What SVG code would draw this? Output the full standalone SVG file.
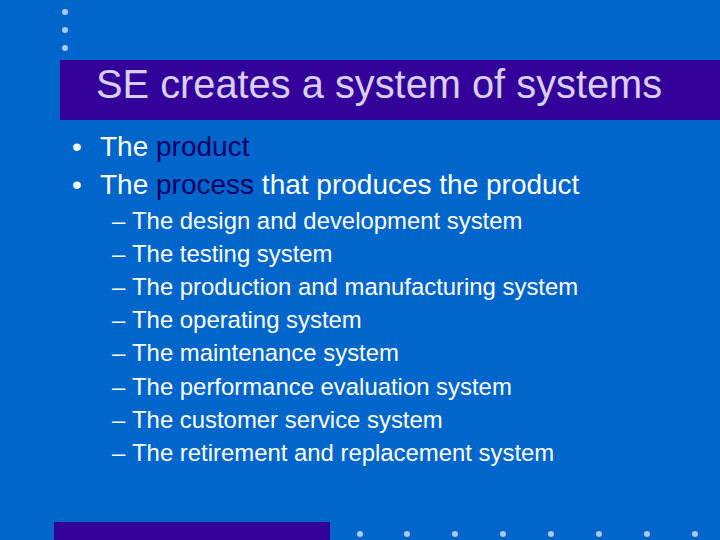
<svg xmlns="http://www.w3.org/2000/svg" width="720" height="540" viewBox="0 0 720 540">
<style>
text{font-family:"Liberation Sans",Arial,sans-serif}
.b{font-size:28px;fill:#ffffff}
.s{font-size:23.9px;fill:#ffffff}
.d{fill:#000066}
.dot{fill:#b0c8f0}
</style>
<rect width="720" height="540" fill="#0066cc"/>
<g id="dots-top"><circle class="dot" cx="65" cy="12" r="3"/><circle class="dot" cx="65" cy="30" r="3"/><circle class="dot" cx="65" cy="48" r="3"/></g>
<rect id="titlebar" x="60" y="60" width="660" height="60" fill="#330099"/>
<text x="96" y="98" font-size="39.8" fill="#d8d0f4">SE creates a system of systems</text>
<g id="bullets">
<text class="b" x="72" y="156">•</text><text class="b" x="100" y="156">The <tspan class="d">product</tspan></text>
<text class="b" x="72" y="194">•</text><text class="b" x="100" y="194">The <tspan class="d">process</tspan> that produces the product</text>
</g>
<g id="sub">
<text class="s" x="112" y="229">–</text><text class="s" x="132" y="229">The design and development system</text>
<text class="s" x="112" y="262">–</text><text class="s" x="132" y="262">The testing system</text>
<text class="s" x="112" y="295">–</text><text class="s" x="132" y="295">The production and manufacturing system</text>
<text class="s" x="112" y="328">–</text><text class="s" x="132" y="328">The operating system</text>
<text class="s" x="112" y="361">–</text><text class="s" x="132" y="361">The maintenance system</text>
<text class="s" x="112" y="395">–</text><text class="s" x="132" y="395">The performance evaluation system</text>
<text class="s" x="112" y="428">–</text><text class="s" x="132" y="428">The customer service system</text>
<text class="s" x="112" y="461">–</text><text class="s" x="132" y="461">The retirement and replacement system</text>
</g>
<rect id="bottombar" x="54" y="522" width="276" height="18" fill="#330099"/>
<g id="dots-bottom"><circle class="dot" cx="360" cy="534" r="3"/><circle class="dot" cx="407" cy="534" r="3"/><circle class="dot" cx="455" cy="534" r="3"/><circle class="dot" cx="503" cy="534" r="3"/><circle class="dot" cx="551" cy="534" r="3"/><circle class="dot" cx="599" cy="534" r="3"/><circle class="dot" cx="647" cy="534" r="3"/><circle class="dot" cx="695" cy="534" r="3"/></g>
</svg>
